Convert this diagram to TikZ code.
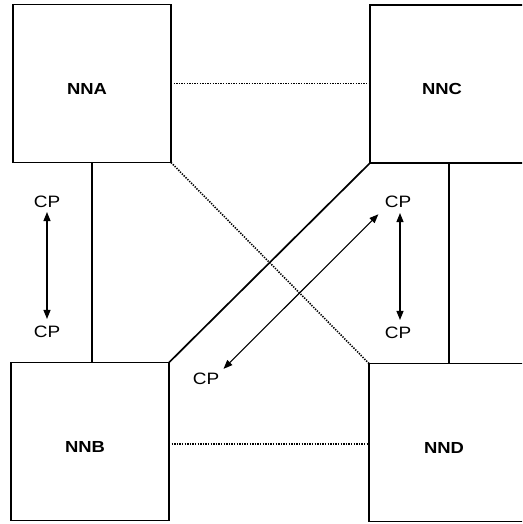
\documentclass[tikz,border=0pt]{standalone}
\usepackage{fontspec}
\setmainfont{Liberation Sans}
\usetikzlibrary{arrows.meta}
\newcommand{\wide}[1]{\scalebox{1.15}[1]{#1}}
\begin{document}
\begin{tikzpicture}[x=1pt,y=-1pt,
  box/.style={draw, line width=1.7pt, minimum width=158pt, minimum height=158pt,
              inner sep=0pt, outer sep=0pt},
  boxname/.style={font=\fontsize{16}{18}\selectfont\bfseries, inner sep=0pt},
  cp/.style={font=\fontsize{16.5}{18}\selectfont, inner sep=2pt},
  link/.style={line width=1.7pt},
  dotlink/.style={line width=1.6pt, dash pattern=on 1.3pt off 1.3pt},
  msg/.style={line width=1.1pt,
              {Triangle[length=9pt,width=7pt]}-{Triangle[length=9pt,width=7pt]}}
]
\clip (0,0) rectangle (522,524);
\fill[white] (0,0) rectangle (522,524);

% the four network nodes
\node[box] (A) at (92,83.5)  {};
\node[box] (B) at (90,441.5) {};
\node[box] (C) at (449,84)   {};
\node[box] (D) at (448,442.5) {};

\node[boxname] (tA) at ([shift={(-5,5)}]A.center) {\wide{NNA}};
\node[boxname] (tB) at ([shift={(-5,5)}]B.center) {\wide{NNB}};
\node[boxname] (tC) at ([shift={(-7,5)}]C.center) {\wide{NNC}};
\node[boxname] (tD) at ([shift={(-4,5.5)}]D.center) {\wide{NND}};

% solid links
\draw[link] (A.south) -- (A.south |- B.north);
\draw[link] (C.south) -- (C.south |- D.north);
\draw[link] (C.south west) -- (B.north east);

% dotted links
\draw[dotlink] (A.east) -- (A.east -| C.west);
\draw[dotlink] ([shift={(0,2.5)}]B.east) -- ([shift={(0,2.5)}]B.east -| D.west);
\draw[dotlink] (A.south east) -- (D.north west);

% control-plane endpoints
\node[cp] (cpA1) at (47,202)  {\wide{CP}};
\node[cp] (cpA2) at (47,332)  {\wide{CP}};
\node[cp] (cpC1) at (398,202) {\wide{CP}};
\node[cp] (cpC2) at (398,333) {\wide{CP}};
\node[cp] (cpX)  at (206,379) {\wide{CP}};

% control-plane exchanges
\draw[msg, shorten <=2pt, shorten >=5pt] (cpA1) -- (cpA2);
\draw[msg, shorten <=3pt, shorten >=5pt]
  ([xshift=2pt]cpC1.south) -- ([xshift=2pt]cpC2.north);
\draw[msg, shorten <=3pt, shorten >=6pt] (cpX.north east) -- (cpC1.south west);
\end{tikzpicture}
\end{document}
